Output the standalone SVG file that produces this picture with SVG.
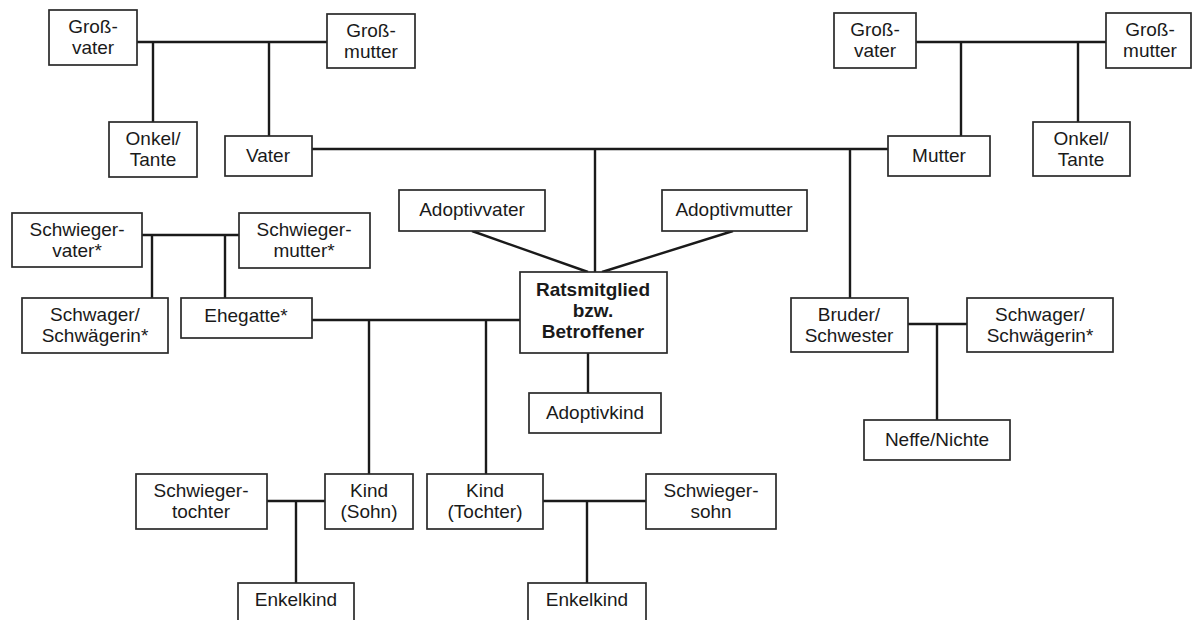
<svg xmlns="http://www.w3.org/2000/svg" width="1192" height="620" viewBox="0 0 1192 620">
<style>
.b{fill:#fff;stroke:#2a2a2a;stroke-width:1.7}
.t{font-family:"Liberation Sans",Arial,sans-serif;font-size:19px;fill:#1a1a1a;text-anchor:middle}
.bold{font-weight:bold}
.c{fill:none;stroke:#1a1a1a;stroke-width:2.4}
</style>
<rect width="1192" height="620" fill="#fff"/>
<g id="connectors" class="c">
<path d="M137 42H327M153 42V122M269 42V136"/>
<path d="M916 42H1106M961 42V136M1078 42V122"/>
<path d="M312 149H888M595 149V272M850 149V298"/>
<path d="M472 231L588 272M733 231L602 272"/>
<path d="M142 235H239M152 235V298M225 235V298"/>
<path d="M312 320H520M369 320V474M486 320V474"/>
<path d="M588 353V393"/>
<path d="M908 324H967M937 324V420"/>
<path d="M267 501H325M296 501V583M543 501H646M587 501V583"/>
</g>
<g id="grossvater1"><rect class="b" x="49" y="10" width="88" height="55"/><text class="t" x="93" y="33">Groß-</text><text class="t" x="93" y="54">vater</text></g>
<g id="grossmutter1"><rect class="b" x="327" y="14" width="88" height="54"/><text class="t" x="371" y="37">Groß-</text><text class="t" x="371" y="58">mutter</text></g>
<g id="onkel1"><rect class="b" x="109" y="122" width="88" height="55"/><text class="t" x="153" y="145">Onkel/</text><text class="t" x="153" y="166">Tante</text></g>
<g id="vater"><rect class="b" x="225" y="136" width="87" height="40"/><text class="t" x="268" y="162">Vater</text></g>
<g id="grossvater2"><rect class="b" x="834" y="13" width="82" height="55"/><text class="t" x="875" y="36">Groß-</text><text class="t" x="875" y="57">vater</text></g>
<g id="grossmutter2"><rect class="b" x="1106" y="13" width="85" height="55"/><text class="t" x="1150" y="36">Groß-</text><text class="t" x="1150" y="57">mutter</text></g>
<g id="onkel2"><rect class="b" x="1033" y="122" width="97" height="54"/><text class="t" x="1081" y="145">Onkel/</text><text class="t" x="1081" y="166">Tante</text></g>
<g id="mutter"><rect class="b" x="888" y="136" width="102" height="40"/><text class="t" x="939" y="162">Mutter</text></g>
<g id="adoptivvater"><rect class="b" x="399" y="190" width="146" height="41"/><text class="t" x="472" y="216">Adoptivvater</text></g>
<g id="adoptivmutter"><rect class="b" x="662" y="190" width="145" height="41"/><text class="t" x="734" y="216">Adoptivmutter</text></g>
<g id="schwiegervater"><rect class="b" x="12" y="213" width="130" height="54"/><text class="t" x="77" y="236">Schwieger-</text><text class="t" x="77" y="257">vater*</text></g>
<g id="schwiegermutter"><rect class="b" x="239" y="213" width="131" height="55"/><text class="t" x="304" y="236">Schwieger-</text><text class="t" x="304" y="257">mutter*</text></g>
<g id="schwager1"><rect class="b" x="22" y="298" width="146" height="55"/><text class="t" x="95" y="321">Schwager/</text><text class="t" x="95" y="342">Schwägerin*</text></g>
<g id="ehegatte"><rect class="b" x="181" y="298" width="131" height="40"/><text class="t" x="246" y="322">Ehegatte*</text></g>
<g id="ratsmitglied"><rect class="b" x="520" y="272" width="147" height="81"/><text class="t bold" x="593" y="296">Ratsmitglied</text><text class="t bold" x="593" y="317">bzw.</text><text class="t bold" x="593" y="338">Betroffener</text></g>
<g id="adoptivkind"><rect class="b" x="529" y="393" width="132" height="40"/><text class="t" x="595" y="419">Adoptivkind</text></g>
<g id="bruder"><rect class="b" x="791" y="298" width="117" height="54"/><text class="t" x="849" y="321">Bruder/</text><text class="t" x="849" y="342">Schwester</text></g>
<g id="schwager2"><rect class="b" x="967" y="298" width="146" height="54"/><text class="t" x="1040" y="321">Schwager/</text><text class="t" x="1040" y="342">Schwägerin*</text></g>
<g id="neffe"><rect class="b" x="864" y="420" width="146" height="40"/><text class="t" x="937" y="446">Neffe/Nichte</text></g>
<g id="schwiegertochter"><rect class="b" x="136" y="474" width="131" height="55"/><text class="t" x="201" y="497">Schwieger-</text><text class="t" x="201" y="518">tochter</text></g>
<g id="kindsohn"><rect class="b" x="325" y="474" width="88" height="55"/><text class="t" x="369" y="497">Kind</text><text class="t" x="369" y="518">(Sohn)</text></g>
<g id="kindtochter"><rect class="b" x="427" y="474" width="116" height="55"/><text class="t" x="485" y="497">Kind</text><text class="t" x="485" y="518">(Tochter)</text></g>
<g id="schwiegersohn"><rect class="b" x="646" y="474" width="130" height="55"/><text class="t" x="711" y="497">Schwieger-</text><text class="t" x="711" y="518">sohn</text></g>
<g id="enkelkind1"><rect class="b" x="238" y="583" width="116" height="45"/><text class="t" x="296" y="606">Enkelkind</text></g>
<g id="enkelkind2"><rect class="b" x="528" y="583" width="118" height="45"/><text class="t" x="587" y="606">Enkelkind</text></g>
</svg>
